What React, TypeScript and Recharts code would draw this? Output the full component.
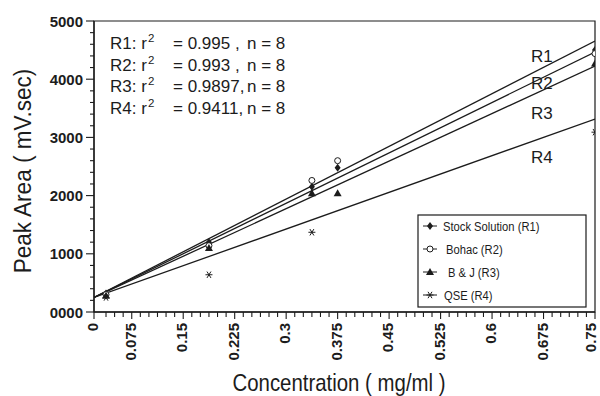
import React from "react";
import {
  ComposedChart,
  Line,
  Scatter,
  XAxis,
  YAxis,
  ReferenceArea,
  Customized,
} from "recharts";

// concentrations (mg/ml) and peak areas (mV.sec)
const concentrations = [0.0375, 0.1875, 0.3375, 0.375, 0.75];
const stockR1 = [320, 1200, 2150, 2480, 4500];
const bohacR2 = [300, 1140, 2260, 2600, 4440];
const bjR3 = [280, 1100, 2040, 2040, 4270];
const qseR4: (number | null)[] = [250, 640, 1370, null, 3090];

// regression lines, value at both ends of the x axis
const fitEnds = [0.02, 0.75];
const fitR1 = [250, 4656];
const fitR2 = [250, 4467];
const fitR3 = [250, 4227];
const fitR4 = [250, 3316];

const fitNames = ["R1", "R2", "R3", "R4"];
const fitR2Values = ["0.995 ,", "0.993 ,", "0.9897,", "0.9411,"];
const fitN = [8, 8, 8, 8];

const legendNames = ["Stock Solution (R1)", "Bohac (R2)", "B & J (R3)", "QSE (R4)"];

const xAxisStart = 0.02;
const xAxisEnd = 0.75;
const xStep = 0.0125;
const xMajorLabels = ["0", "0.075", "0.15", "0.225", "0.3", "0.375", "0.45", "0.525", "0.6", "0.675", "0.75"];
const yMax = 5000;

const ink = "#1c1c1c";
const sans = "'Liberation Sans', Arial, sans-serif";

const toPoints = (ys: (number | null)[], xs: number[]) =>
  xs.map((x, i) => ({ x, y: ys[i] })).filter((p) => p.y !== null);

const xTicks = [xAxisStart];
for (let k = 3; k * xStep <= xAxisEnd + 1e-9; k++) xTicks.push(Number((k * xStep).toFixed(4)));
const yTicks: number[] = [];
for (let v = 0; v <= yMax; v += 200) yTicks.push(v);

const xLabelFor = (v: number) => {
  if (v === xAxisStart) return xMajorLabels[0];
  const k = Math.round(v / xStep);
  return k % 6 === 0 ? xMajorLabels[k / 6] : null;
};

const XTick = ({ x, y, payload }: any) => {
  const label = xLabelFor(payload.value);
  // keep the last rotated label inside the 600px frame
  const tx = Math.min(x + 4, 596);
  return (
    <g>
      <line x1={x} x2={x} y1={y} y2={y + (label ? 7 : 5)} stroke={ink} strokeWidth={1.1} />
      {label && (
        <text
          transform={`translate(${tx},${y + 11}) rotate(-90)`}
          textAnchor="end"
          fontFamily={sans}
          fontWeight="bold"
          fontSize={15}
          fill={ink}
        >
          {label}
        </text>
      )}
    </g>
  );
};

const YTick = ({ x, y, payload }: any) => {
  const v = payload.value;
  const major = v % 1000 === 0;
  return (
    <g>
      <line x1={x} x2={x - (major ? 8 : 4)} y1={y} y2={y} stroke={ink} strokeWidth={1.1} />
      {major && (
        <text x={x - 11} y={y + 5.5} textAnchor="end" fontFamily={sans} fontWeight="bold" fontSize={15} fill={ink}>
          {String(v).padStart(4, "0")}
        </text>
      )}
    </g>
  );
};

// markers
const Diamond = ({ cx, cy }: any) => (
  <path d={`M${cx},${cy - 4}L${cx + 3},${cy}L${cx},${cy + 4}L${cx - 3},${cy}Z`} fill={ink} />
);
const Ring = ({ cx, cy }: any) => <circle cx={cx} cy={cy} r={3} fill="#fff" stroke={ink} strokeWidth={1} />;
const Tri = ({ cx, cy }: any) => (
  <path d={`M${cx},${cy - 4}L${cx + 4},${cy + 3}L${cx - 4},${cy + 3}Z`} fill={ink} />
);
const Star = ({ cx, cy }: any) => (
  <g stroke={ink} strokeWidth={1}>
    <line x1={cx - 3.5} x2={cx + 3.5} y1={cy} y2={cy} />
    <line x1={cx - 2} x2={cx + 2} y1={cy - 3.2} y2={cy + 3.2} />
    <line x1={cx + 2} x2={cx - 2} y1={cy - 3.2} y2={cy + 3.2} />
  </g>
);
const markers = [Diamond, Ring, Tri, Star];

const Overlay = () => {
  const statY = [49, 70.5, 92, 113.5];
  const tagY = [62, 89, 119, 163];
  const legY = [226, 249, 272, 295];
  const legX = [443, 446, 448, 444];
  return (
    <g fill={ink}>
      {fitNames.map((n, i) => (
        <g key={n} fontFamily={sans} fontSize={17}>
          <text x={110} y={statY[i]}>{`${n}: r`}</text>
          <text x={148} y={statY[i] - 7} fontSize={11.5}>2</text>
          <text x={173} y={statY[i]}>{`= ${fitR2Values[i]}`}</text>
          <text x={247} y={statY[i]}>{`n = ${fitN[i]}`}</text>
          <text x={531} y={tagY[i]}>{n}</text>
        </g>
      ))}
      {/* the original uses a condensed face: squeeze along the text direction */}
      <text
        transform="translate(31,171) rotate(-90) scale(0.94,1)"
        textAnchor="middle"
        fontFamily={sans}
        fontSize={24}
      >
        Peak Area ( mV.sec)
      </text>
      <text transform="translate(339,391) scale(0.85,1)" textAnchor="middle" fontFamily={sans} fontSize={24}>
        Concentration ( mg/ml )
      </text>
      <rect x={418} y={215} width={168} height={92} fill="#fff" stroke={ink} strokeWidth={1.2} />
      {legendNames.map((name, i) => {
        const M = markers[i];
        return (
          <g key={name}>
            <line x1={423} x2={437} y1={legY[i]} y2={legY[i]} stroke={ink} strokeWidth={1} />
            <M cx={430} cy={legY[i]} />
            <text
              transform={`translate(${legX[i]},${legY[i] + 4.5}) scale(0.83,1)`}
              fontFamily={sans}
              fontSize={13.5}
            >
              {name}
            </text>
          </g>
        );
      })}
    </g>
  );
};

export default function App() {
  const fits = [fitR1, fitR2, fitR3, fitR4];
  const series = [stockR1, bohacR2, bjR3, qseR4];
  return (
    <div style={{ position: "absolute", left: 0, top: 0, width: 600, height: 396, background: "#fff" }}>
      <ComposedChart width={600} height={396} margin={{ top: 21, right: 5, bottom: 0, left: 0 }}>
        <XAxis
          dataKey="x"
          type="number"
          domain={[xAxisStart, xAxisEnd]}
          ticks={xTicks}
          interval={0}
          height={84}
          tickSize={0}
          tickMargin={0}
          tickLine={false}
          axisLine={{ stroke: ink, strokeWidth: 1.3 }}
          tick={(p: any) => <XTick {...p} />}
          allowDataOverflow
        />
        <YAxis
          dataKey="y"
          type="number"
          domain={[0, yMax]}
          ticks={yTicks}
          interval={0}
          width={94}
          tickSize={0}
          tickMargin={0}
          tickLine={false}
          axisLine={{ stroke: ink, strokeWidth: 1.3 }}
          tick={(p: any) => <YTick {...p} />}
        />
        <ReferenceArea
          x1={xAxisStart}
          x2={xAxisEnd}
          y1={0}
          y2={yMax}
          fill="none"
          stroke={ink}
          strokeWidth={1.2}
          ifOverflow="visible"
        />
        {fits.map((f, i) => (
          <Line
            key={`fit-${i}`}
            data={toPoints(f, fitEnds)}
            dataKey="y"
            stroke={ink}
            strokeWidth={1.3}
            dot={false}
            isAnimationActive={false}
          />
        ))}
        {series.map((s, i) => {
          const M = markers[i];
          return (
            <Scatter
              key={`pts-${i}`}
              data={toPoints(s, concentrations)}
              dataKey="y"
              shape={(p: any) => <M cx={p.cx} cy={p.cy} />}
              isAnimationActive={false}
            />
          );
        })}
        <Customized component={Overlay} />
      </ComposedChart>
    </div>
  );
}
